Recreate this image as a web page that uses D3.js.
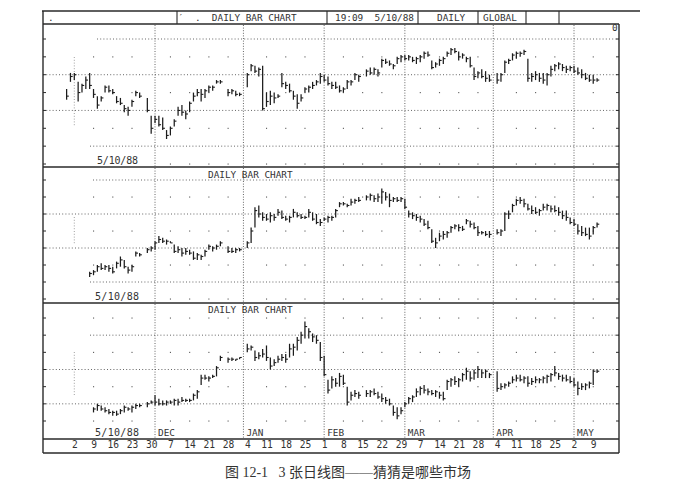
<!DOCTYPE html>
<html><head><meta charset="utf-8">
<script src="https://cdn.jsdelivr.net/npm/d3@7"></script>
<style>body{margin:0;background:#fff}svg{display:block}</style>
</head><body>
<svg id="c" width="694" height="490"></svg>
<script>
// ---------- categories ----------
const firstDay = [1987, 9, 29];   // Oct 29 1987 (first weekday shown)
const lastDay  = [1988, 4, 10];   // May 10 1988
const holidays = ["1987-11-26","1987-12-25","1988-01-01","1988-02-15","1988-04-01"];
const weekLabels = ["2","9","16","23","30","7","14","21","28","4","11","18","25","1","8","15","22","29","7","14","21","28","4","11","18","25","2","9"];
const monthLabels = ["DEC","JAN","FEB","MAR","APR","MAY"];
const headerTexts = [".", "\u2032  .  DAILY BAR CHART", "19:09  5/10/88", "DAILY", "GLOBAL"];
const captionText = "图 12-1   3 张日线图——猜猜是哪些市场";

// ---------- series (grid units x10, HLC bars; null = holiday) ----------
// Panel 1 : from Oct 29 1987
const p1Start = "1987-10-29";
const p1High = [42,51,51,46,45,49,51,42,38,38, 44,44,42,38,37,33,32,36,41,40, null,37,27,27,27,26,19,21,25,32,
  33,30,35,40,42,42,42,44,44,47, 47,null,42,42,41,40,null,51,56,55, 54,55,40,41,40,39,51,46,45,41,
  39,39,43,44,46,47,51,50,49,46, 46,44,43,47,47,51,50,null,53,54, 54,53,59,59,58,56,60,61,61,61,
  60,60,61,63,63,58,57,59,60,63, 65,65,63,62,60,60,54,52,53,52, 50,null,51,51,58,59,62,63,63,64,
  59,51,52,51,51,51,55,56,57,56, 55,55,55,54,53,51,50,50,48];
const p1Low = [36,46,47,35,40,42,42,37,31,35, 40,40,39,34,33,29,27,32,38,37, null,29,17,23,21,19,14,16,21,27,
  27,25,29,35,38,35,37,40,41,45, 45,null,38,39,38,38,null,43,52,51, 49,30,32,33,34,37,43,42,40,36,
  31,35,40,40,42,44,45,46,44,42, 42,40,40,42,44,47,46,null,49,50, 50,49,54,56,55,53,56,57,58,58,
  57,56,57,59,60,53,54,55,56,60, 61,62,58,59,57,54,47,48,48,46, 46,null,45,46,51,56,58,59,60,61,
  46,46,47,46,45,44,49,52,53,52, 51,52,51,50,48,47,46,45,46];
const p1Close = [38,49,50,40,44,47,44,39,33,37, 43,41,40,35,34,31,30,35,40,38, null,30,20,25,22,20,16,20,24,30,
  29,28,34,38,40,39,41,43,43,46, 46,null,40,41,39,39,null,50,55,52, 53,31,35,38,37,38,45,44,41,38,
  34,37,42,43,44,46,49,47,45,44, 43,41,42,46,46,50,49,null,52,51, 53,51,58,57,56,55,59,60,59,60,
  58,59,60,62,61,54,56,58,59,62, 64,63,60,61,59,55,49,51,49,48, 47,null,47,50,57,58,61,62,62,63,
  48,49,50,48,47,50,53,55,56,54, 53,54,52,51,50,48,47,47,47];

// Panel 2 : from Nov 6 1987
const p2Start = "1987-11-06";
const p2High = [16,17,20,21,20,20,19,22,25,23, 19,20,28,27,null,30,31,34,37,36, 35,34,32,31,30,30,29,28,27,26,
  29,32,31,32,34,null,31,30,30,30, null,34,42,54,55,51,50,51,50,53, 52,49,49,53,51,50,49,53,51,50,
  47,48,49,49,53,57,57,56,59,59, 60,null,61,62,61,62,65,63,62,60, 60,60,59,52,51,50,49,47,46,41,
  36,39,40,40,43,44,44,43,47,46, 45,43,40,40,40,null,41,41,51,52, 56,59,60,59,56,55,54,53,56,56,
  55,55,54,52,52,48,47,44,43,42, 42,43,45];
const p2Low = [13,14,16,17,17,16,15,18,19,18, 15,16,25,25,null,27,28,29,33,33, 32,33,27,27,25,26,26,23,23,23,
  25,29,28,29,31,null,27,27,27,28, null,30,33,42,48,46,46,45,46,49, 47,46,45,48,48,47,47,48,46,44,
  43,46,45,46,48,54,55,54,55,56, 57,null,58,58,57,57,56,58,54,57, 57,57,53,48,47,46,45,43,41,33,
  30,34,35,36,39,41,40,40,44,42, 41,37,38,37,36,null,38,37,40,47, 51,55,56,54,52,50,50,49,52,52,
  51,51,49,47,46,44,43,38,37,37, 35,38,42];
const p2Close = [15,16,19,18,19,18,16,21,23,19, 17,19,27,26,null,29,30,33,35,34, 34,33,28,29,27,28,27,24,26,25,
  28,31,30,31,33,null,28,28,29,29, null,33,40,52,50,48,47,49,48,51, 48,47,48,51,49,48,48,51,47,45,
  45,47,48,48,52,56,56,55,57,58, 58,null,60,61,59,60,63,60,58,59, 58,59,54,50,49,48,47,44,42,34,
  33,37,38,39,42,43,42,41,46,44, 42,39,39,38,38,null,39,40,50,50, 55,58,58,56,53,52,51,52,54,55,
  53,52,51,49,48,45,44,40,39,38, 37,42,44];

// Panel 3 : from Nov 9 1987
const p3Start = "1987-11-09";
const p3High = [8,10,9,8,7,6,6,7,9,8, 9,10,10,null,11,12,15,13,12,12, 12,13,13,14,13,13,16,18,27,27,
  26,27,32,38,null,37,37,36,37,null, 45,44,41,40,42,44,37,36,38,39, 39,45,45,49,52,58,54,51,50,46,
  38,24,26,25,28,27,20,17,18,17, null,18,18,19,17,16,14,13,9,8, 8,11,14,15,19,20,21,19,18,18,
  17,17,24,25,26,25,28,31,29,30, 32,30,30,28,null,29,22,22,23,26, 27,27,26,26,25,26,25,26,27,28,
  32,28,27,27,26,25,23,22,22,23, 30,30];
const p3Low = [5,6,6,5,4,3,3,4,5,6, 5,7,8,null,8,10,9,9,9,9, 10,9,9,11,11,11,12,13,21,24,
  23,25,26,35,null,34,35,35,36,null, 40,41,35,36,37,35,30,32,34,35, 34,37,38,41,45,48,48,46,45,35,
  26,16,19,20,20,21,9,12,14,13, null,14,14,15,13,11,10,9,3,1, 4,8,10,11,14,15,16,15,15,14,
  13,12,18,20,21,20,23,24,23,24, 25,25,25,25,null,17,18,19,20,22, 23,23,22,20,21,22,22,22,22,23,
  26,24,23,23,22,20,15,18,18,19, 21,28];
const p3Close = [7,9,7,6,5,5,4,6,8,7, 8,9,9,null,10,11,11,10,10,11, 11,12,11,12,12,12,15,17,25,25,
  25,26,31,37,null,36,36,36,37,null, 42,43,37,38,39,37,32,34,36,37, 36,42,43,47,50,55,52,49,47,37,
  27,18,24,22,26,22,11,15,16,15, null,16,17,16,14,13,12,10,5,3, 6,10,13,14,17,19,18,17,16,17,
  15,13,23,24,23,24,27,29,25,28, 30,28,29,27,null,19,20,21,22,24, 25,24,25,22,23,24,24,25,26,27,
  28,26,25,24,23,21,19,20,21,22, 29,29];

// grid rows (same units)
const fullRows = [10,30,50,70];
const dotRows  = [0,20,40,60];

// ---------- build weekday categories ----------
const fmt = d3.utcFormat("%Y-%m-%d");
const weekdays = [];
for (let t = Date.UTC(...firstDay); t <= Date.UTC(...lastDay); t += 864e5) {
  const d = new Date(t), w = d.getUTCDay();
  if (w > 0 && w < 6) weekdays.push(d);
}
const keys = weekdays.map(fmt);
const idxOf = s => keys.indexOf(s);
const firstMon = idxOf("1987-11-02");
const mondayIdx = weekdays.map((d,i)=>d.getUTCDay()===1 ? i : -1).filter(i=>i>=firstMon);
const monthStartIdx = [];
weekdays.forEach((d,i)=>{ if(i>firstMon && d.getUTCMonth()!==weekdays[i-1].getUTCMonth()) monthStartIdx.push(i); });

// ---------- layout ----------
const L = 43, R = 619;
const x = d3.scaleLinear().domain([firstMon, idxOf("1988-05-02")]).range([74.3, 574]);
const panels = [
  {top:24, bottom:167, y:d3.scaleLinear().domain([0,70]).range([164,39]), hi:p1High, lo:p1Low, cl:p1Close, start:p1Start,
   fullFrom:{10:90,30:L,50:L,70:97}, part:[57,127], textRow:true},
  {top:167, bottom:303, y:d3.scaleLinear().domain([0,70]).range([299,180]), hi:p2High, lo:p2Low, cl:p2Close, start:p2Start,
   fullFrom:{10:90,30:L,50:L,70:93}, part:[217,245], textRow:true},
  {top:303, bottom:439, y:d3.scaleLinear().domain([0,60]).range([421,318]), hi:p3High, lo:p3Low, cl:p3Close, start:p3Start,
   fullFrom:{10:L,30:L,50:90,70:90}, part:[352,395], textRow:false}
];
const svg = d3.select("#c");
const ink = "#2a2a2a", gridC = "#555";
const mono = "'DejaVu Sans Mono', monospace";

// header
svg.append("line").attr("x1",L-1).attr("x2",640).attr("y1",11).attr("y2",11).attr("stroke",ink).attr("stroke-width",1.3);
[177,327,418,478,526,559].forEach(xx=>svg.append("line").attr("x1",xx).attr("x2",xx).attr("y1",11).attr("y2",24).attr("stroke",ink).attr("stroke-width",1.1));
const hx = [48,178,335,437,483];
headerTexts.forEach((t,i)=>svg.append("text").attr("x",hx[i]).attr("y",21).text(t)
  .attr("font-family",mono).attr("font-size",9.4).attr("fill","#333").style("white-space","pre"));

// panels
panels.forEach((p,pi)=>{
  const g = svg.append("g");
  const rows = dotRows.concat(fullRows).filter(v=>p.y(v)>p.top+3 && p.y(v)<p.bottom+1);
  fullRows.filter(v=>p.y(v)>p.top+3).forEach(v=>{
    g.append("line").attr("x1",p.fullFrom[v]).attr("x2",R).attr("y1",p.y(v)).attr("y2",p.y(v))
      .attr("stroke",gridC).attr("stroke-width",0.9).attr("stroke-dasharray","1 2.2");
  });
  const dotCols = mondayIdx.filter(i=>i>firstMon && monthStartIdx.every(m=>Math.abs(m-i)>1.5));
  dotRows.filter(v=>p.y(v)>p.top+3 && p.y(v)<p.bottom-1).forEach(v=>{
    dotCols.filter(i=>!(p.textRow && v===0 && x(i)<145))
      .forEach(i=>g.append("rect").attr("x",x(i)-0.5).attr("y",p.y(v)-0.5).attr("width",1.1).attr("height",1.1).attr("fill",gridC));
  });
  monthStartIdx.forEach(i=>g.append("line").attr("x1",x(i)).attr("x2",x(i)).attr("y1",p.top+1).attr("y2",p.bottom-1)
    .attr("stroke",gridC).attr("stroke-width",0.9).attr("stroke-dasharray","1 1.6"));
  g.append("line").attr("x1",x(firstMon)).attr("x2",x(firstMon)).attr("y1",p.part[0]).attr("y2",p.part[1])
    .attr("stroke","#888").attr("stroke-width",0.8).attr("stroke-dasharray","1 1.8");
  rows.forEach(v=>{
    g.append("line").attr("x1",L).attr("x2",L+3).attr("y1",p.y(v)).attr("y2",p.y(v)).attr("stroke",ink).attr("stroke-width",1);
    g.append("line").attr("x1",R-3).attr("x2",R).attr("y1",p.y(v)).attr("y2",p.y(v)).attr("stroke",ink).attr("stroke-width",1);
  });
  const s0 = idxOf(p.start);
  const bars = p.hi.map((h,k)=>({i:s0+k, h, l:p.lo[k], c:p.cl[k]}))
    .filter(d=>d.h!=null && !holidays.includes(keys[d.i]));
  g.selectAll(".b").data(bars).enter().append("line")
    .attr("x1",d=>x(d.i)).attr("x2",d=>x(d.i)).attr("y1",d=>p.y(d.h)).attr("y2",d=>p.y(d.l))
    .attr("stroke","#1c1c1c").attr("stroke-width",1.25);
  g.selectAll(".c").data(bars).enter().append("line")
    .attr("x1",d=>x(d.i)).attr("x2",d=>x(d.i)+2.2).attr("y1",d=>p.y(d.c)).attr("y2",d=>p.y(d.c))
    .attr("stroke","#1c1c1c").attr("stroke-width",1.1);
  svg.append("line").attr("x1",L).attr("x2",R).attr("y1",p.top).attr("y2",p.top).attr("stroke",ink).attr("stroke-width",1.4);
});

// panel texts
const txt = (t,xx,yy,fs=9.4)=>svg.append("text").attr("x",xx).attr("y",yy).text(t)
  .attr("font-family",mono).attr("font-size",fs).attr("fill","#333");
txt("0",612,31);
txt("5/10/88",97,164,10).attr("textLength",41);
txt("DAILY BAR CHART",208,178);
txt("5/10/88",95,300,10).attr("textLength",44);
txt("DAILY BAR CHART",208,313);
txt("5/10/88",95,436,10).attr("textLength",44);
monthLabels.forEach((m,k)=>txt(m,x(monthStartIdx[k])+3,436));

// axis row
svg.append("line").attr("x1",L).attr("x2",R).attr("y1",439).attr("y2",439).attr("stroke",ink).attr("stroke-width",1.5);
svg.append("line").attr("x1",L).attr("x2",R).attr("y1",453).attr("y2",453).attr("stroke",ink).attr("stroke-width",1.4);
svg.append("line").attr("x1",L).attr("x2",L).attr("y1",11).attr("y2",453).attr("stroke",ink).attr("stroke-width",1.4);
svg.append("line").attr("x1",R).attr("x2",R).attr("y1",24).attr("y2",453).attr("stroke",ink).attr("stroke-width",1.4);
const axis = d3.axisBottom(x).tickValues(mondayIdx.slice(0,weekLabels.length))
  .tickFormat((d,k)=>weekLabels[k]).tickSize(0).tickPadding(0);
const ax = svg.append("g").attr("transform","translate(0,441)").call(axis);
ax.select(".domain").remove();
ax.selectAll("text").attr("font-family",mono).attr("font-size",9.6).attr("fill","#333").attr("dy","0.71em");

// caption
svg.append("text").attr("x",348).attr("y",477).attr("text-anchor","middle").text(captionText)
  .attr("font-family","'Liberation Serif','Noto Sans CJK SC',serif").attr("font-size",14).attr("fill","#333")
  .style("white-space","pre");
</script></body></html>
